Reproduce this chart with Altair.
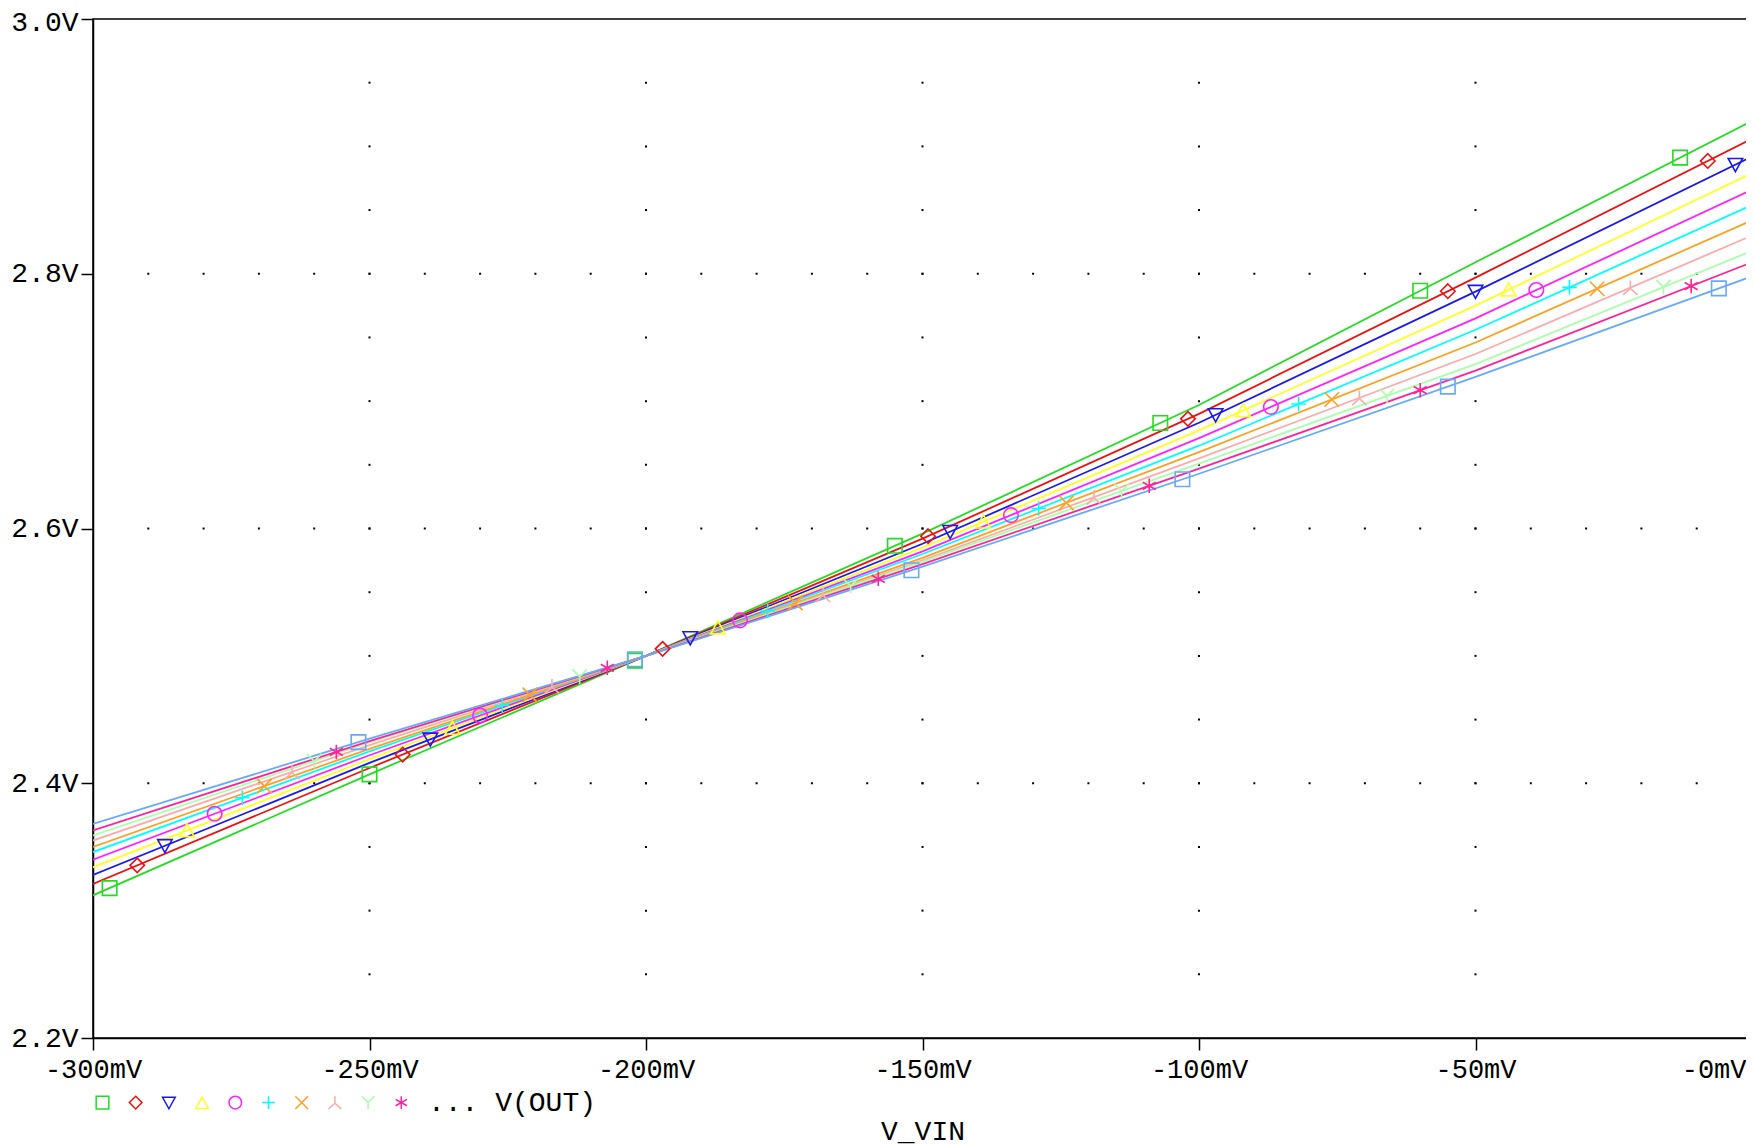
import altair as alt
import pandas as pd
import numpy as np

# ---------------- data ----------------
x_mv = [-300, -250, -200, -150, -100, -50, 0]

trace_names = ["T01", "T02", "T03", "T04", "T05", "T06", "T07", "T08", "T09", "T10", "T11"]
trace_colors = ["#22dd22", "#ee1111", "#1a1aee", "#ffff22", "#ff22ff", "#00ffff",
                "#ffa020", "#ffaaaa", "#aaffaa", "#ff2299", "#66aaff"]

v_out = {
    "T01": [2.312, 2.407, 2.500, 2.596, 2.697, 2.809, 2.920],
    "T02": [2.321, 2.412, 2.500, 2.592, 2.690, 2.797, 2.906],
    "T03": [2.328, 2.416, 2.500, 2.588, 2.683, 2.786, 2.892],
    "T04": [2.334, 2.419, 2.500, 2.585, 2.677, 2.775, 2.879],
    "T05": [2.340, 2.422, 2.500, 2.582, 2.671, 2.765, 2.866],
    "T06": [2.346, 2.425, 2.500, 2.580, 2.665, 2.756, 2.854],
    "T07": [2.350, 2.427, 2.500, 2.577, 2.660, 2.746, 2.842],
    "T08": [2.355, 2.430, 2.500, 2.575, 2.655, 2.737, 2.830],
    "T09": [2.359, 2.432, 2.500, 2.574, 2.651, 2.729, 2.818],
    "T10": [2.363, 2.433, 2.500, 2.572, 2.647, 2.724, 2.809],
    "T11": [2.368, 2.435, 2.500, 2.570, 2.643, 2.719, 2.798],
}

marker_x = {
    "T01": [-297, -250, -202, -155, -107, -60, -13],
    "T02": [-292, -244, -197, -149, -102, -55, -8],
    "T03": [-287, -239, -192, -145, -97, -50, -3],
    "T04": [-283, -235, -187, -139, -92, -44],
    "T05": [-278, -230, -183, -134, -87, -39],
    "T06": [-273, -226, -178, -129, -82, -33],
    "T07": [-269, -221, -173, -124, -76, -28],
    "T08": [-264, -217, -168, -119, -71, -22],
    "T09": [-260, -212, -163, -114, -66, -16],
    "T10": [-256, -207, -158, -109, -60, -11],
    "T11": [-252, -202, -152, -103, -55, -6],
}

marker_shapes = [
    "M-1,-1L1,-1L1,1L-1,1Z",                                   # square
    "M0,-1L1,0L0,1L-1,0Z",                                     # diamond
    "M-1,-0.85L1,-0.85L0,0.95Z",                               # triangle down
    "M-1,0.85L1,0.85L0,-0.95Z",                                # triangle up
    "circle",                                                  # circle
    "M-1,0L1,0M0,-1L0,1",                                      # plus
    "M-1,-1L1,1M-1,1L1,-1",                                    # x
    "M0,-1L0,0.1M0,0.1L-1,1M0,0.1L1,1",                        # inverted Y
    "M-1,-1L0,0M1,-1L0,0M0,0L0,1",                             # Y
    "M0,-1L0,1M-0.9,-0.5L0.9,0.5M-0.9,0.5L0.9,-0.5",           # asterisk
    "M-1,-1L1,-1L1,1L-1,1Z",                                   # square
]

x_ticks = [-300, -250, -200, -150, -100, -50, 0]
y_ticks = [2.2, 2.4, 2.6, 2.8, 3.0]
x_dot_cols = [-250, -200, -150, -100, -50]
y_dot_rows = [2.4, 2.6, 2.8]
x_minor = list(range(-290, 0, 10))
y_minor = [2.25, 2.30, 2.35, 2.40, 2.45, 2.50, 2.55, 2.60, 2.65, 2.70, 2.75, 2.80, 2.85, 2.90, 2.95]

legend_title = "... V(OUT)"
x_title = "V_VIN"

# ---------------- tables ----------------
lines = pd.DataFrame(
    [{"trace": t, "x": xv, "y": yv} for t in trace_names for xv, yv in zip(x_mv, v_out[t])]
)
markers = pd.DataFrame(
    [{"trace": t, "x": mx, "y": float(np.interp(mx, x_mv, v_out[t]))}
     for t in trace_names for mx in marker_x[t]]
)
dots = pd.DataFrame(
    [{"x": c, "y": r} for c in x_dot_cols for r in y_minor]
    + [{"x": c, "y": r} for r in y_dot_rows for c in x_minor]
)

FONT = "Liberation Mono"

x_scale = alt.Scale(domain=[-300, 0], nice=False, zero=False)
y_scale = alt.Scale(domain=[2.2, 3.0], nice=False, zero=False)

x_axis = alt.Axis(
    values=x_ticks,
    labelExpr="datum.value == 0 ? '-0mV' : datum.value + 'mV'",
    title=x_title,
    grid=False,
    tickSize=12,
    labelFont=FONT, labelFontSize=27, labelPadding=6,
    labelAlign={"condition": {"test": "datum.value == 0", "value": "right"}, "value": "center"},
    labelOffset={"condition": {"test": "datum.value == 0", "value": -6}, "value": 0},
    titleFont=FONT, titleFontSize=28, titleFontWeight="normal", titlePadding=35,
)
y_axis = alt.Axis(
    values=y_ticks,
    labelExpr="format(datum.value, '.1f') + 'V'",
    title=None,
    grid=False,
    tickSize=12,
    labelFont=FONT, labelFontSize=28, labelPadding=3,
    labelOffset={"condition": {"test": "datum.value >= 2.99", "value": 3}, "value": 0},
)

color_scale = alt.Scale(domain=trace_names, range=trace_colors)
shape_scale = alt.Scale(domain=trace_names, range=marker_shapes)

leg = alt.Legend(
    orient="none", legendX=2, legendY=1076, direction="horizontal", columns=11,
    values=trace_names[:10],
    title=legend_title, titleOrient="right", titleFont=FONT, titleFontSize=28,
    titleFontWeight="normal", titleColor="black", titlePadding=18, titleBaseline="middle",
    labelExpr="''", labelOffset=0, labelFontSize=8, columnPadding=14.2, padding=0,
    symbolSize=160, symbolStrokeWidth=1.5, symbolFillColor="transparent",
)

base_x = alt.X("x:Q", scale=x_scale, axis=x_axis)
base_y = alt.Y("y:Q", scale=y_scale, axis=y_axis)

dot_layer = alt.Chart(dots).mark_square(size=4, color="black", opacity=1).encode(
    x=base_x, y=base_y
)

line_layer = alt.Chart(lines).mark_line(strokeWidth=1.8, clip=True).encode(
    x=base_x, y=base_y,
    stroke=alt.Stroke("trace:N", scale=color_scale, legend=None),
    detail="trace:N",
)

marker_layer = alt.Chart(markers).mark_point(filled=False, strokeWidth=1.6, size=210, opacity=1).encode(
    x=base_x, y=base_y,
    color=alt.Color("trace:N", scale=color_scale, legend=leg),
    shape=alt.Shape("trace:N", scale=shape_scale, legend=leg),
)

chart = alt.layer(dot_layer, line_layer, marker_layer).resolve_scale(
    color="independent", shape="independent"
).properties(
    width=1659, height=1019,
    autosize=alt.AutoSizeParams(type="none"),
    padding={"left": 85, "top": 11, "right": -6, "bottom": 108},
    background="white",
).configure_view(
    stroke="black", strokeWidth=1.5
).configure_axis(
    domainColor="black", tickColor="black", labelColor="black", titleColor="black",
    domainWidth=1.5, tickWidth=1.5,
)

chart.save("out.html", embed_options={"renderer": "svg", "actions": False})
